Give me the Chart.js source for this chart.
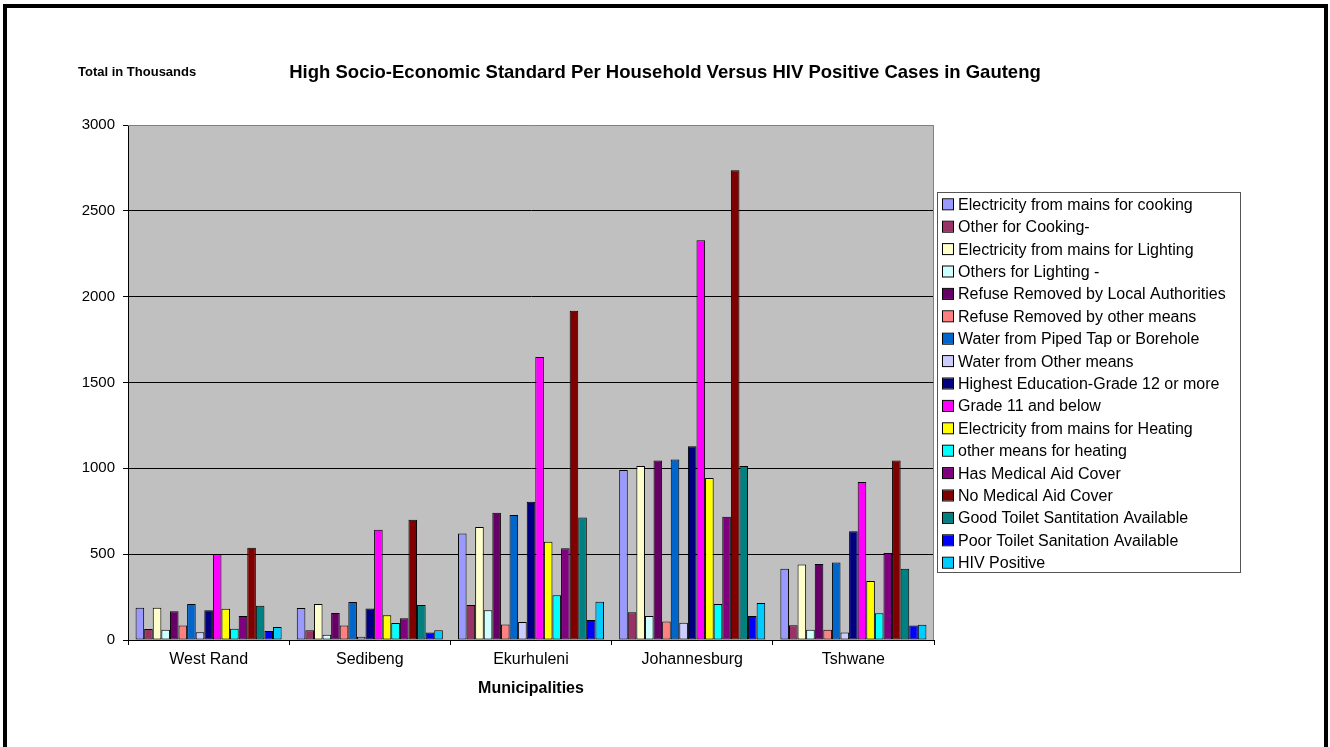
<!DOCTYPE html>
<html><head><meta charset="utf-8">
<script src="https://cdn.jsdelivr.net/npm/chart.js@4.4.1/dist/chart.umd.min.js"></script>
<style>html,body{margin:0;padding:0;background:#fff;overflow:hidden}#wrap{position:relative;width:1330px;height:747px}canvas{display:block}</style>
</head><body><div id="wrap"><canvas id="c" width="1330" height="747"></canvas></div>
<script>
const categories = ['West Rand','Sedibeng','Ekurhuleni','Johannesburg','Tshwane'];
const elecCooking   = [188, 186, 621, 990, 415];
const otherCooking  = [64, 57, 204, 161, 86];
const elecLighting  = [188, 210, 658, 1014, 440];
const otherLighting = [60, 31, 173, 140, 60];
const refuseLocal   = [167, 157, 741, 1045, 442];
const refuseOther   = [85, 85, 91, 108, 60];
const waterPiped    = [210, 221, 728, 1051, 452];
const waterOther    = [45, 19, 105, 101, 43];
const educationGr12 = [173, 184, 805, 1128, 633];
const grade11Below  = [500, 642, 1648, 2329, 921];
const elecHeating   = [182, 144, 572, 944, 343];
const otherHeating  = [66, 99, 260, 210, 156];
const medicalAid    = [140, 126, 534, 718, 507];
const noMedicalAid  = [537, 700, 1918, 2737, 1046];
const goodToilet    = [200, 204, 714, 1014, 415];
const poorToilet    = [52, 43, 116, 140, 84];
const hivPositive   = [76, 57, 223, 216, 89];

const seriesLabels = [
  'Electricity from mains for cooking','Other for Cooking-','Electricity from mains for Lighting',
  'Others for Lighting -','Refuse Removed by Local Authorities','Refuse Removed by other means',
  'Water from Piped Tap or Borehole','Water from Other means','Highest Education-Grade 12 or more',
  'Grade 11 and below','Electricity from mains for Heating','other means for heating',
  'Has Medical Aid Cover','No Medical Aid Cover','Good Toilet Santitation Available',
  'Poor Toilet Sanitation Available','HIV Positive'
];
const seriesValues = [elecCooking, otherCooking, elecLighting, otherLighting, refuseLocal, refuseOther,
  waterPiped, waterOther, educationGr12, grade11Below, elecHeating, otherHeating, medicalAid,
  noMedicalAid, goodToilet, poorToilet, hivPositive];
const seriesColors = ['#9999FF','#993366','#FFFFCC','#CCFFFF','#660066','#FF8080','#0066CC','#CCCCFF',
  '#000080','#FF00FF','#FFFF00','#00FFFF','#800080','#800000','#008080','#0000FF','#00CCFF'];

const yMin = 0, yMax = 3000, yStep = 500;
const chartTitle = 'High Socio-Economic Standard Per Household Versus HIV Positive Cases in Gauteng';
const yAxisTitle = 'Total in Thousands';
const xAxisTitle = 'Municipalities';

const FONT = "'Liberation Sans', Arial, sans-serif";

const decor = {
  id: 'decor',
  beforeDraw(chart) {
    const {ctx, chartArea: a} = chart;
    ctx.save();
    ctx.fillStyle = '#fff';
    ctx.fillRect(0, 0, chart.width, chart.height);
    ctx.fillStyle = '#C0C0C0';
    ctx.fillRect(a.left, a.top, a.right - a.left, a.bottom - a.top);
    ctx.restore();
  },
  afterDraw(chart) {
    const {ctx, chartArea: a} = chart;
    ctx.save();
    ctx.strokeStyle = '#808080';
    ctx.lineWidth = 1;
    ctx.beginPath();
    ctx.moveTo(a.left, a.top + 0.5); ctx.lineTo(a.right - 0.5, a.top + 0.5); ctx.lineTo(a.right - 0.5, a.bottom);
    ctx.stroke();
    ctx.fillStyle = '#000';
    ctx.textBaseline = 'middle';
    ctx.font = 'bold 18.5px ' + FONT;
    ctx.textAlign = 'center';
    ctx.fillText(chartTitle, 665, 73);
    ctx.font = 'bold 13px ' + FONT;
    ctx.textAlign = 'left';
    ctx.fillText(yAxisTitle, 78, 72);
    const lx = 937, ly = 192, lw = 303, lh = 380, step = 22.4;
    ctx.strokeStyle = '#555';
    ctx.strokeRect(lx + 0.5, ly + 0.5, lw, lh);
    ctx.font = '16px ' + FONT;
    chart.data.datasets.forEach((ds, i) => {
      const cy = ly + 12.3 + i * step;
      ctx.fillStyle = ds.backgroundColor;
      ctx.fillRect(943, cy - 5, 10, 10);
      ctx.strokeStyle = '#000';
      ctx.strokeRect(942.5, cy - 5.5, 11, 11);
      ctx.fillStyle = '#000';
      ctx.fillText(ds.label, 958, cy + 1);
    });
    ctx.fillStyle = '#000';
    ctx.fillRect(3, 4, 1325, 4);
    ctx.fillRect(3, 4, 4, 743);
    ctx.fillRect(1324, 4, 4, 743);
    ctx.restore();
  }
};

new Chart(document.getElementById('c'), {
  type: 'bar',
  data: {
    labels: categories,
    datasets: seriesValues.map((vals, i) => ({
      label: seriesLabels[i],
      data: vals,
      backgroundColor: seriesColors[i],
      borderColor: '#000',
      borderWidth: 1,
      borderSkipped: false,
      barPercentage: 1,
      categoryPercentage: 0.906
    }))
  },
  options: {
    responsive: false,
    animation: false,
    devicePixelRatio: 1,
    layout: { padding: { left: 0, top: 125, right: 396, bottom: 47 } },
    plugins: { legend: { display: false }, title: { display: false }, tooltip: { enabled: false } },
    scales: {
      x: {
        afterFit(s) { s.height = 60; },
        grid: { offset: true, drawOnChartArea: false, drawTicks: true, tickLength: 5, color: '#000' },
        border: { color: '#000' },
        ticks: { font: { family: FONT, size: 16 }, color: '#000', padding: 5, maxRotation: 0 },
        title: { display: true, text: xAxisTitle, font: { family: FONT, size: 16, weight: 'bold' }, color: '#000', padding: { top: 0, bottom: 2 } }
      },
      y: {
        min: yMin, max: yMax,
        afterFit(s) { s.width = 128; },
        grid: { color: (c) => c.tick && c.tick.value === yMax ? 'rgba(0,0,0,0)' : '#000', tickColor: '#000', tickLength: 5 },
        border: { color: '#000' },
        ticks: { stepSize: yStep, font: { family: FONT, size: 15 }, color: '#000', padding: 8, callback: (v) => String(v) }
      }
    }
  },
  plugins: [decor]
});
</script></body></html>
